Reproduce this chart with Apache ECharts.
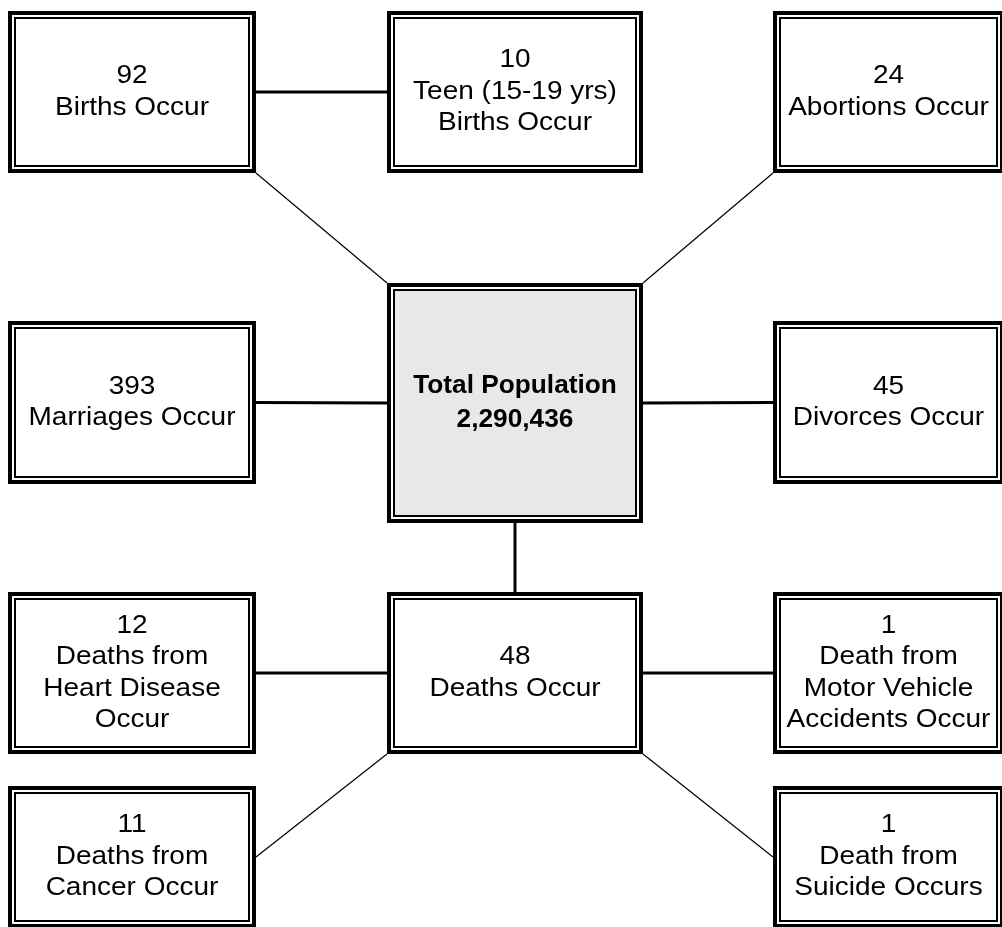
<!DOCTYPE html>
<html>
<head>
<meta charset="utf-8">
<title>Population events</title>
<script src="https://cdn.jsdelivr.net/npm/echarts@6.0.0/dist/echarts.min.js"></script>
<style>
  html, body { margin: 0; padding: 0; background: #fff; }
  #chartWrap { width: 1002px; height: 927px; }
</style>
</head>
<body>
<div id="chartWrap"></div>
<script>
// box texts and counts
var labels = [
  'Births Occur',
  'Teen (15-19 yrs)\nBirths Occur',
  'Abortions Occur',
  'Marriages Occur',
  'Total Population',
  'Divorces Occur',
  'Deaths from\nHeart Disease\nOccur',
  'Deaths Occur',
  'Death from\nMotor Vehicle\nAccidents Occur',
  'Deaths from\nCancer Occur',
  'Death from\nSuicide Occurs'
];
var counts = [92, 10, 24, 393, 2290436, 45, 12, 48, 1, 11, 1];
var TOTAL = 4;

// which boxes are joined (from, to)
var links = [[0, 1], [0, 4], [2, 4], [3, 4], [5, 4], [4, 7], [6, 7], [8, 7], [7, 9], [7, 10]];

// layout, in page pixels (axes run 0..1002 and 0..927)
var colX = { L: [8, 256], M: [387, 643], R: [773, 1004] };
var rowY = { r1: [11, 173], r2: [321, 484], c: [283, 523], r3: [592, 754], r4: [786, 928] };
var boxCell = [['L', 'r1'], ['M', 'r1'], ['R', 'r1'], ['L', 'r2'], ['M', 'c'], ['R', 'r2'],
               ['L', 'r3'], ['M', 'r3'], ['R', 'r3'], ['L', 'r4'], ['R', 'r4']];
var linkAnchor = [['r', 'l'], ['br', 'tl'], ['bl', 'tr'], ['r', 'l'], ['l', 'r'], ['b', 't'],
                  ['r', 'l'], ['l', 'r'], ['bl', 'r'], ['br', 'l']];
var linkWidth = [3, 1.2, 1.2, 3, 3, 3, 3, 3, 1.2, 1.2];

var FONT = '"Liberation Sans", Arial, Helvetica, sans-serif';

function boxRect(i) {
  var c = colX[boxCell[i][0]], r = rowY[boxCell[i][1]];
  return [c[0], r[0], c[1], r[1]];
}

// point on a box edge
function anchorPoint(i, a) {
  var b = boxRect(i);
  var mx = (b[0] + b[2]) / 2, my = (b[1] + b[3]) / 2;
  var x = a.indexOf('l') >= 0 ? b[0] : (a.indexOf('r') >= 0 ? b[2] : mx);
  var y = a.indexOf('t') >= 0 ? b[1] : (a.indexOf('b') >= 0 ? b[3] : my);
  return [x, y];
}

function renderLink(params, api) {
  var k = api.value(0);
  var p0 = api.coord(anchorPoint(links[k][0], linkAnchor[k][0]));
  var p1 = api.coord(anchorPoint(links[k][1], linkAnchor[k][1]));
  return {
    type: 'line',
    shape: { x1: p0[0], y1: p0[1], x2: p1[0], y2: p1[1] },
    style: { stroke: '#000', lineWidth: linkWidth[k] }
  };
}

function renderBox(params, api) {
  var i = api.value(0);
  var b = boxRect(i);
  var p0 = api.coord([b[0], b[1]]);
  var p1 = api.coord([b[2], b[3]]);
  var x = p0[0], y = p0[1], w = p1[0] - x, h = p1[1] - y;
  var isTotal = i === TOTAL;
  var num = echarts.format.addCommas(counts[i]);
  var txt = isTotal ? labels[i] + '\n' + num : num + '\n' + labels[i];
  return {
    type: 'group',
    children: [
      { type: 'rect', shape: { x: x + 2, y: y + 2, width: w - 4, height: h - 4 },
        style: { fill: '#fff', stroke: '#000', lineWidth: 4 } },
      { type: 'rect', shape: { x: x + 7, y: y + 7, width: w - 14, height: h - 14 },
        style: { fill: isTotal ? '#e8e8e8' : '#fff', stroke: '#000', lineWidth: 2 } },
      { type: 'text', x: x + w / 2, y: y + h / 2, scaleX: isTotal ? 1.05 : 1.12,
        style: {
          text: txt,
          fill: '#000',
          font: (isTotal ? 'bold 25px ' : '25px ') + FONT,
          lineHeight: isTotal ? 34 : 31.5,
          align: 'center',
          verticalAlign: 'middle'
        } }
    ]
  };
}

var myChart = echarts.init(document.getElementById('chartWrap'));
myChart.setOption({
  animation: false,
  backgroundColor: '#fff',
  grid: { left: 0, right: 0, top: 0, bottom: 0 },
  xAxis: { type: 'value', min: 0, max: 1002, show: false },
  yAxis: { type: 'value', min: 0, max: 927, inverse: true, show: false },
  series: [
    {
      type: 'custom',
      silent: true,
      z: 1,
      renderItem: renderLink,
      data: links.map(function (l, k) { return [k, 0]; })
    },
    {
      type: 'custom',
      silent: true,
      z: 2,
      renderItem: renderBox,
      data: counts.map(function (c, i) { return [i, 0]; })
    }
  ]
});
</script>
</body>
</html>
